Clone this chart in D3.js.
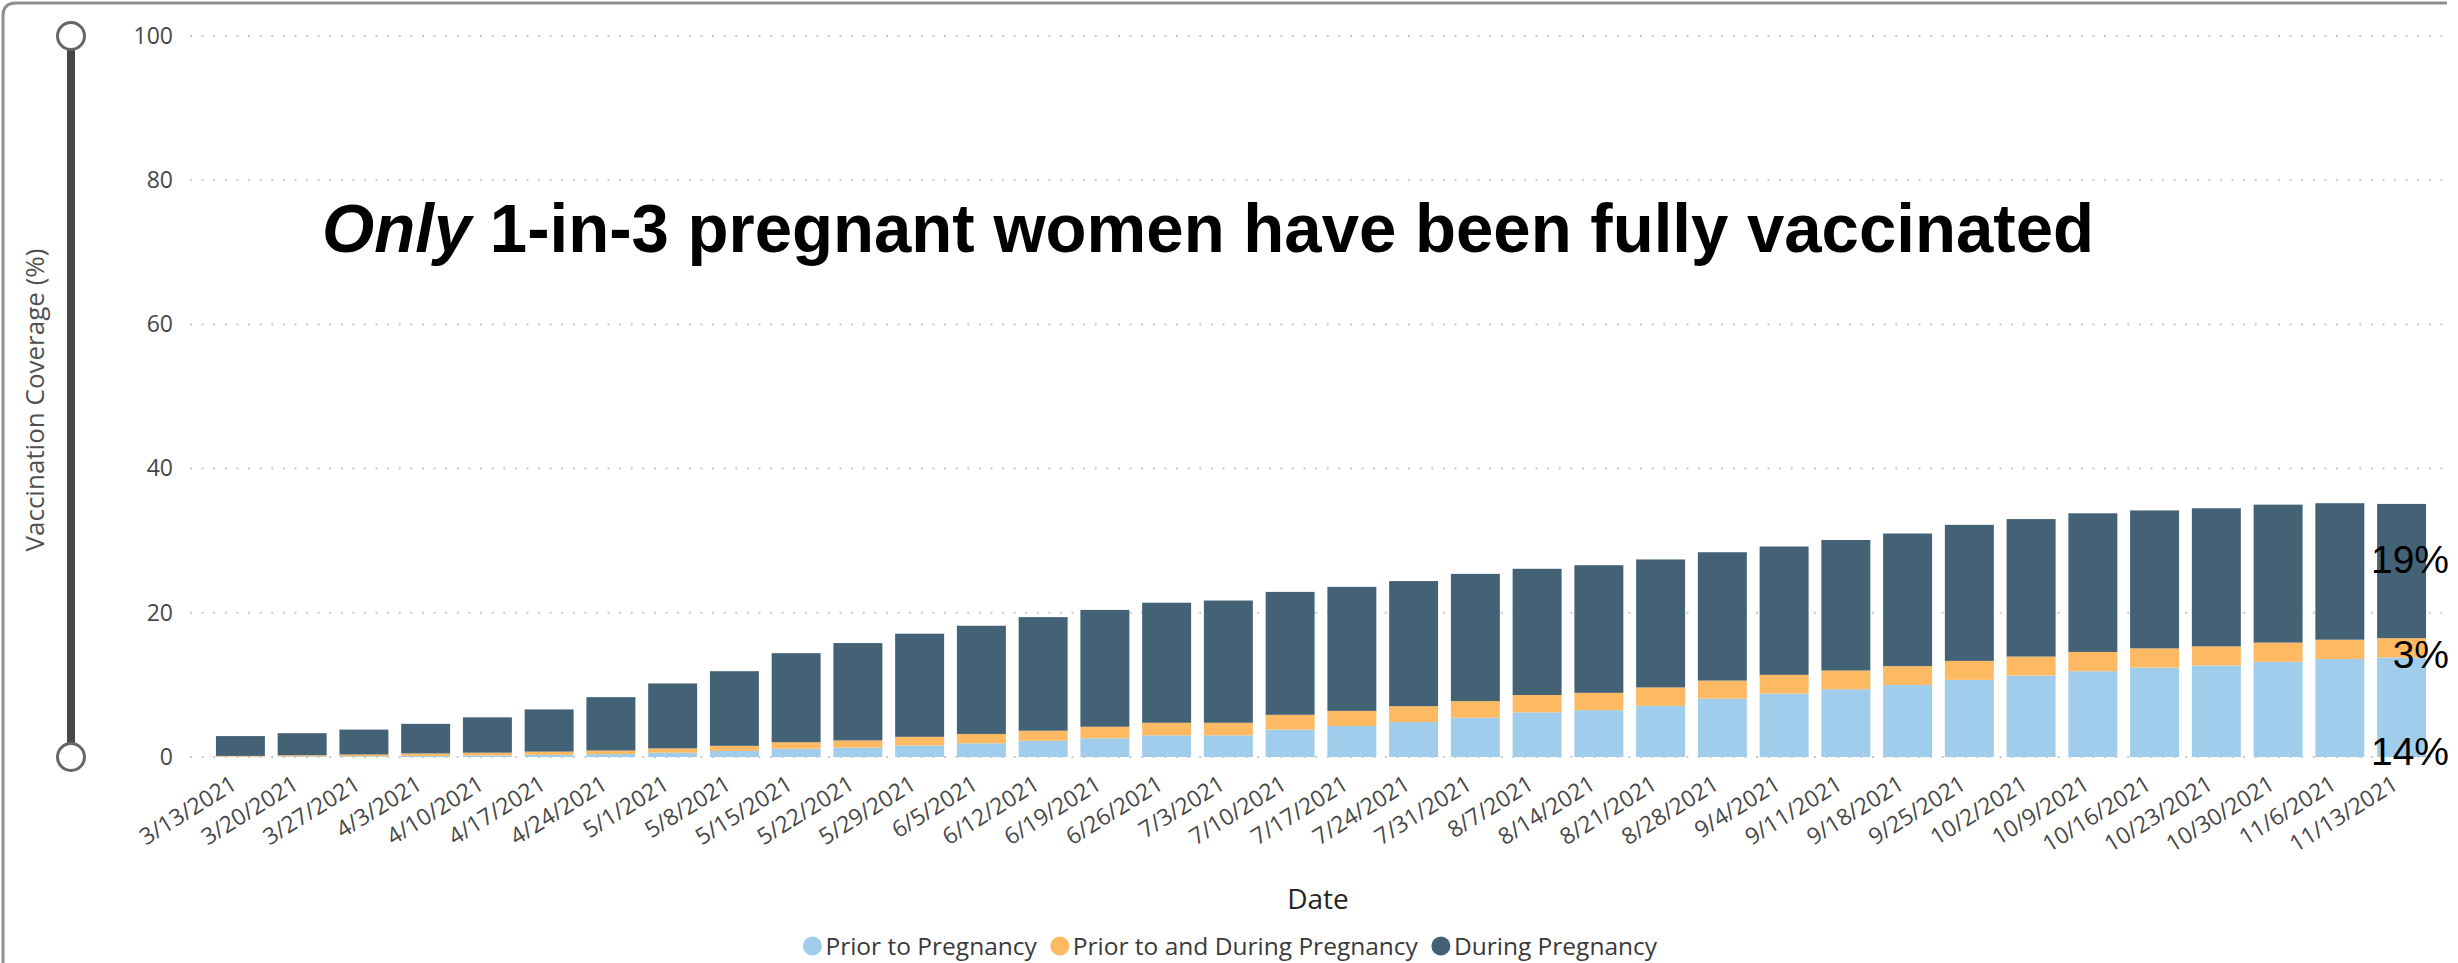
<!DOCTYPE html>
<html>
<head>
<meta charset="utf-8">
<script src="https://cdn.jsdelivr.net/npm/d3@7/dist/d3.min.js"></script>
<style>
  html, body { margin: 0; padding: 0; background: #ffffff; }
  svg { display: block; }
</style>
</head>
<body>
<svg id="chart" width="2458" height="963"></svg>
<script>
// Weekly snapshot dates (x categories)
const dates = [
  "3/13/2021","3/20/2021","3/27/2021","4/3/2021","4/10/2021","4/17/2021","4/24/2021",
  "5/1/2021","5/8/2021","5/15/2021","5/22/2021","5/29/2021","6/5/2021","6/12/2021",
  "6/19/2021","6/26/2021","7/3/2021","7/10/2021","7/17/2021","7/24/2021","7/31/2021",
  "8/7/2021","8/14/2021","8/21/2021","8/28/2021","9/4/2021","9/11/2021","9/18/2021",
  "9/25/2021","10/2/2021","10/9/2021","10/16/2021","10/23/2021","10/30/2021","11/6/2021",
  "11/13/2021"
];

// Vaccination coverage (%) by timing of vaccination
const priorToPregnancy = [
  0.05, 0.10, 0.10, 0.15, 0.20, 0.30, 0.40, 0.60, 0.85, 1.15, 1.30, 1.60, 1.90, 2.25,
  2.60, 3.00, 3.00, 3.80, 4.30, 4.85, 5.45, 6.20, 6.50, 7.10, 8.10, 8.80, 9.40, 10.00,
  10.70, 11.30, 11.90, 12.40, 12.70, 13.20, 13.60, 13.80
];
const priorToAndDuring = [
  0.10, 0.15, 0.25, 0.35, 0.40, 0.45, 0.50, 0.60, 0.70, 0.90, 1.00, 1.20, 1.30, 1.40,
  1.60, 1.75, 1.75, 2.05, 2.10, 2.20, 2.30, 2.40, 2.40, 2.55, 2.50, 2.60, 2.60, 2.60,
  2.63, 2.63, 2.67, 2.67, 2.65, 2.67, 2.67, 2.68
];
const duringPregnancy = [
  2.75, 3.05, 3.45, 4.10, 4.90, 5.85, 7.40, 9.00, 10.35, 12.35, 13.50, 14.30, 15.00, 15.75,
  16.20, 16.65, 16.95, 17.05, 17.20, 17.35, 17.65, 17.50, 17.70, 17.75, 17.80, 17.80, 18.10, 18.40,
  18.87, 19.07, 19.23, 19.13, 19.15, 19.13, 18.93, 18.62
];

const seriesNames = ["Prior to Pregnancy", "Prior to and During Pregnancy", "During Pregnancy"];
const seriesColors = ["#A0CDEB", "#FEB963", "#436276"];
const yTicks = [0, 20, 40, 60, 80, 100];

const titleLead = "Only";
const titleRest = " 1-in-3 pregnant women have been fully vaccinated";

// ---- build table for stacking
const rows = dates.map((d, i) => ({
  date: d,
  [seriesNames[0]]: priorToPregnancy[i],
  [seriesNames[1]]: priorToAndDuring[i],
  [seriesNames[2]]: duringPregnancy[i]
}));
const stacked = d3.stack().keys(seriesNames)(rows);

const svg = d3.select("#chart");
const uiFont = "'Segoe UI', 'Open Sans', 'Noto Sans', sans-serif";

// ---- scales
const x = d3.scaleBand()
  .domain(dates)
  .range([190, 2452])
  .paddingInner(0.207)
  .paddingOuter(0.42);

const y = d3.scaleLinear().domain([0, 100]).range([757, 36]);
const color = d3.scaleOrdinal().domain(seriesNames).range(seriesColors);

// ---- outer frame (top and left edges with rounded corner)
svg.append("path")
  .attr("d", "M3,963 L3,16 Q3,3 16,3 L2447,3")
  .attr("fill", "none")
  .attr("stroke", "#8e8e8e")
  .attr("stroke-width", 3);

// ---- dotted gridlines + y tick labels
const yAxis = d3.axisLeft(y).tickValues(yTicks).tickSize(0).tickPadding(0);
const yG = svg.append("g").attr("transform", "translate(173,0)").call(yAxis);
yG.select(".domain").remove();
yG.selectAll("text")
  .attr("font-family", uiFont)
  .attr("font-size", 23)
  .attr("fill", "#474747")
  .attr("x", 0);

svg.append("g").selectAll("line")
  .data(yTicks)
  .join("line")
  .attr("x1", 190).attr("x2", 2442)
  .attr("y1", d => y(d)).attr("y2", d => y(d))
  .attr("stroke", "#c9c9c9")
  .attr("stroke-width", 2)
  .attr("stroke-dasharray", "2,9.6");

// ---- range slider decoration on the left
svg.append("line")
  .attr("x1", 71).attr("x2", 71)
  .attr("y1", y(100)).attr("y2", y(0))
  .attr("stroke", "#474747").attr("stroke-width", 8);
svg.append("g").selectAll("circle")
  .data([100, 0])
  .join("circle")
  .attr("cx", 71).attr("cy", d => y(d)).attr("r", 13.5)
  .attr("fill", "#ffffff").attr("stroke", "#666666").attr("stroke-width", 3);

// ---- stacked bars
svg.append("g").selectAll("g")
  .data(stacked)
  .join("g")
  .attr("fill", d => color(d.key))
  .selectAll("rect")
  .data(d => d)
  .join("rect")
  .attr("x", d => x(d.data.date))
  .attr("width", x.bandwidth())
  .attr("y", d => y(d[1]))
  .attr("height", d => Math.max(0, y(d[0]) - y(d[1])));

// ---- x tick labels (rotated)
const xAxis = d3.axisBottom(x).tickSize(0).tickPadding(0);
const xG = svg.append("g").attr("transform", "translate(0,757)").call(xAxis);
xG.select(".domain").remove();
xG.selectAll(".tick text")
  .attr("font-family", uiFont)
  .attr("font-size", 23)
  .attr("fill", "#474747")
  .attr("text-anchor", "end")
  .attr("dy", 0)
  .attr("y", 0)
  .attr("transform", "translate(-2,31) rotate(-32)");

// ---- axis titles
svg.append("text")
  .attr("transform", "translate(44,400) rotate(-90)")
  .attr("text-anchor", "middle")
  .attr("font-family", uiFont)
  .attr("font-size", 26)
  .attr("fill", "#505050")
  .text("Vaccination Coverage (%)");

svg.append("text")
  .attr("x", 1318).attr("y", 909)
  .attr("text-anchor", "middle")
  .attr("font-family", uiFont)
  .attr("font-size", 28)
  .attr("fill", "#252423")
  .text("Date");

// ---- headline
const title = svg.append("text")
  .attr("x", 322).attr("y", 252)
  .attr("font-family", "'Liberation Sans', Arial, sans-serif")
  .attr("font-weight", "bold")
  .attr("font-size", 68)
  .attr("fill", "#000000");
title.append("tspan").attr("font-style", "italic").text(titleLead);
title.append("tspan").text(titleRest);
title.attr("textLength", 1772).attr("lengthAdjust", "spacingAndGlyphs");

// ---- value annotations on the latest week
const last = rows[rows.length - 1];
const pPrior = last[seriesNames[0]];
const pBoth = last[seriesNames[1]];
const pDuring = last[seriesNames[2]];
const annotations = [
  { value: pDuring, yPos: y(pPrior + pBoth + pDuring / 2) + 2 },
  { value: pBoth,   yPos: y(pPrior + pBoth / 2) + 20 },
  { value: pPrior,  yPos: y(0) + 8 }
];
svg.append("g").selectAll("text")
  .data(annotations)
  .join("text")
  .attr("x", 2449)
  .attr("y", d => d.yPos)
  .attr("text-anchor", "end")
  .attr("font-family", "'Liberation Sans', Arial, sans-serif")
  .attr("font-size", 39)
  .attr("fill", "#000000")
  .text(d => Math.round(d.value) + "%");

// ---- legend, laid out left to right and centred
const legend = svg.append("g").attr("transform", "translate(0,946)");
const items = legend.selectAll("g")
  .data(seriesNames)
  .join("g");
items.append("circle")
  .attr("r", 9.5)
  .attr("cx", 0).attr("cy", 0)
  .attr("fill", d => color(d));
items.append("text")
  .attr("x", 13).attr("y", 0).attr("dy", "0.35em")
  .attr("font-family", uiFont)
  .attr("font-size", 24.5)
  .attr("fill", "#3a3a3a")
  .text(d => d);

let cursor = 0;
const positions = [];
items.each(function() {
  const w = d3.select(this).select("text").node().getComputedTextLength();
  positions.push(cursor);
  cursor += 13 + w + 23;
});
const totalW = cursor - 23 + 9.5;
const startX = 1230 - totalW / 2 + 9.5;
items.attr("transform", (d, i) => `translate(${startX + positions[i]},0)`);
</script>
</body>
</html>
